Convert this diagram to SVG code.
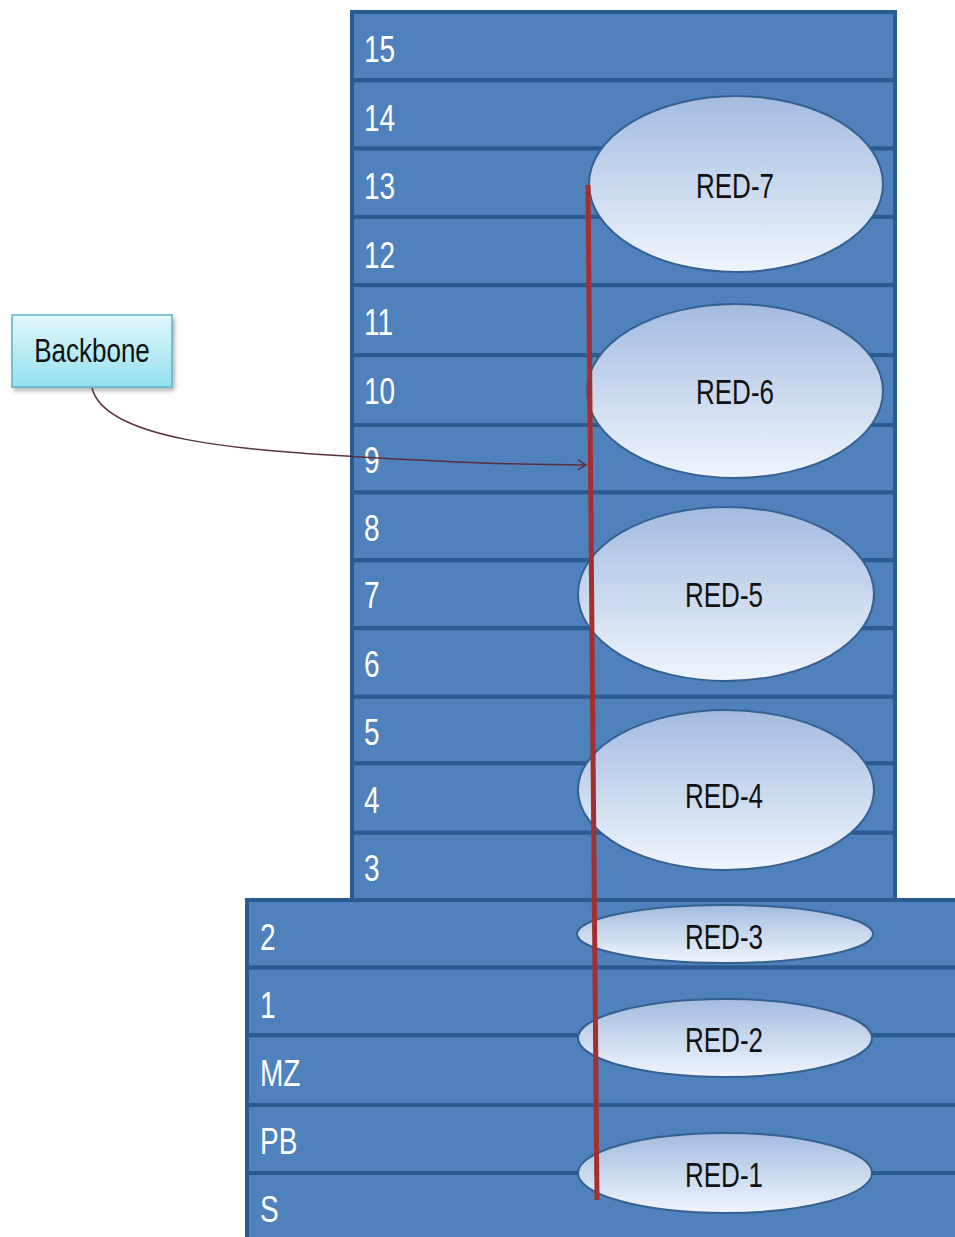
<svg xmlns="http://www.w3.org/2000/svg" width="955" height="1237" viewBox="0 0 955 1237">
<defs>
<linearGradient id="eg" x1="0" y1="0" x2="0" y2="1">
<stop offset="0" stop-color="#a3bbe0"/>
<stop offset="1" stop-color="#f0f5fc"/>
</linearGradient>
<linearGradient id="bg" x1="0" y1="0" x2="0" y2="1">
<stop offset="0" stop-color="#e2f7fb"/>
<stop offset="1" stop-color="#93e1ef"/>
</linearGradient>
<marker id="arr" markerWidth="12" markerHeight="12" refX="10" refY="6" orient="auto" markerUnits="userSpaceOnUse">
<path d="M2,1 L10,6 L2,11" fill="none" stroke="#5a3040" stroke-width="1.5"/>
</marker>
<filter id="sh" x="-10%" y="-10%" width="130%" height="140%">
<feDropShadow dx="2" dy="3" stdDeviation="2" flood-color="#000" flood-opacity="0.3"/>
</filter>
</defs>
<style>
.row{fill:#4f81bd;stroke:#2b5a90;stroke-width:4}
.lbl{font-family:"Liberation Sans",Arial,sans-serif;font-size:28px;fill:#ffffff}
.ell{fill:url(#eg);stroke:#36608f;stroke-width:2}
.rt{font-family:"Liberation Sans",Arial,sans-serif;font-size:26px;fill:#111111;text-anchor:middle}
</style>
<rect width="955" height="1237" fill="#ffffff"/>
<g id="tower">
<rect class="row" x="352" y="12" width="543" height="68.3"/>
<rect class="row" x="352" y="80.3" width="543" height="68.3"/>
<rect class="row" x="352" y="148.6" width="543" height="68.3"/>
<rect class="row" x="352" y="216.9" width="543" height="68.3"/>
<rect class="row" x="352" y="285.2" width="543" height="70"/>
<rect class="row" x="352" y="355.2" width="543" height="69.8"/>
<rect class="row" x="352" y="425" width="543" height="67.5"/>
<rect class="row" x="352" y="492.5" width="543" height="67.8"/>
<rect class="row" x="352" y="560.3" width="543" height="68"/>
<rect class="row" x="352" y="628.3" width="543" height="68.5"/>
<rect class="row" x="352" y="696.8" width="543" height="66.5"/>
<rect class="row" x="352" y="763.3" width="543" height="69.5"/>
<rect class="row" x="352" y="832.8" width="543" height="67.2"/>
<text class="lbl" transform="translate(364,62) scale(1,1.3)">15</text>
<text class="lbl" transform="translate(364,131) scale(1,1.3)">14</text>
<text class="lbl" transform="translate(364,199) scale(1,1.3)">13</text>
<text class="lbl" transform="translate(364,268) scale(1,1.3)">12</text>
<text class="lbl" transform="translate(364,335) scale(1,1.3)">11</text>
<text class="lbl" transform="translate(364,404) scale(1,1.3)">10</text>
<text class="lbl" transform="translate(364,473) scale(1,1.3)">9</text>
<text class="lbl" transform="translate(364,541) scale(1,1.3)">8</text>
<text class="lbl" transform="translate(364,608) scale(1,1.3)">7</text>
<text class="lbl" transform="translate(364,677) scale(1,1.3)">6</text>
<text class="lbl" transform="translate(364,745) scale(1,1.3)">5</text>
<text class="lbl" transform="translate(364,813) scale(1,1.3)">4</text>
<text class="lbl" transform="translate(364,881) scale(1,1.3)">3</text>
</g>
<g id="base">
<rect class="row" x="247" y="900" width="720" height="67.5"/>
<rect class="row" x="247" y="967.5" width="720" height="67.8"/>
<rect class="row" x="247" y="1035.3" width="720" height="69.7"/>
<rect class="row" x="247" y="1105" width="720" height="68"/>
<rect class="row" x="247" y="1173" width="720" height="80"/>
<text class="lbl" transform="translate(260,950) scale(1,1.3)">2</text>
<text class="lbl" transform="translate(260,1018) scale(1,1.3)">1</text>
<text class="lbl" transform="translate(260,1086) scale(1,1.3)">MZ</text>
<text class="lbl" transform="translate(260,1154) scale(1,1.3)">PB</text>
<text class="lbl" transform="translate(260,1222) scale(1,1.3)">S</text>
</g>
<g id="red7"><ellipse class="ell" cx="736" cy="184" rx="147" ry="88"/><text class="rt" transform="translate(735,198) scale(1,1.35)">RED-7</text></g>
<g id="red6"><ellipse class="ell" cx="735" cy="391" rx="148" ry="87"/><text class="rt" transform="translate(735,404) scale(1,1.35)">RED-6</text></g>
<g id="red5"><ellipse class="ell" cx="726" cy="594" rx="148" ry="87"/><text class="rt" transform="translate(724,607) scale(1,1.35)">RED-5</text></g>
<g id="red4"><ellipse class="ell" cx="726" cy="790" rx="148" ry="80"/><text class="rt" transform="translate(724,808) scale(1,1.35)">RED-4</text></g>
<g id="red3"><ellipse class="ell" cx="725" cy="934" rx="148" ry="29"/><text class="rt" transform="translate(724,949) scale(1,1.35)">RED-3</text></g>
<g id="red2"><ellipse class="ell" cx="725" cy="1038" rx="147" ry="39"/><text class="rt" transform="translate(724,1052) scale(1,1.35)">RED-2</text></g>
<g id="red1"><ellipse class="ell" cx="725" cy="1173" rx="147" ry="40"/><text class="rt" transform="translate(724,1187) scale(1,1.35)">RED-1</text></g>
<g id="backbone">
<rect x="12" y="315" width="160" height="72" fill="url(#bg)" stroke="#5ab2c8" stroke-width="1.5" filter="url(#sh)"/>
<text transform="translate(92,362) scale(1,1.3)" style="font-family:'Liberation Sans',Arial,sans-serif;font-size:26px;fill:#111111;text-anchor:middle">Backbone</text>
</g>
<g id="connectors">
<line x1="588" y1="185" x2="597" y2="1200" stroke="#a3302e" stroke-width="5"/>
<path d="M92,388 C105,440 240,450 360,457 S520,464 586,465" fill="none" stroke="#5a3040" stroke-width="1.5" marker-end="url(#arr)"/>
</g>
</svg>
